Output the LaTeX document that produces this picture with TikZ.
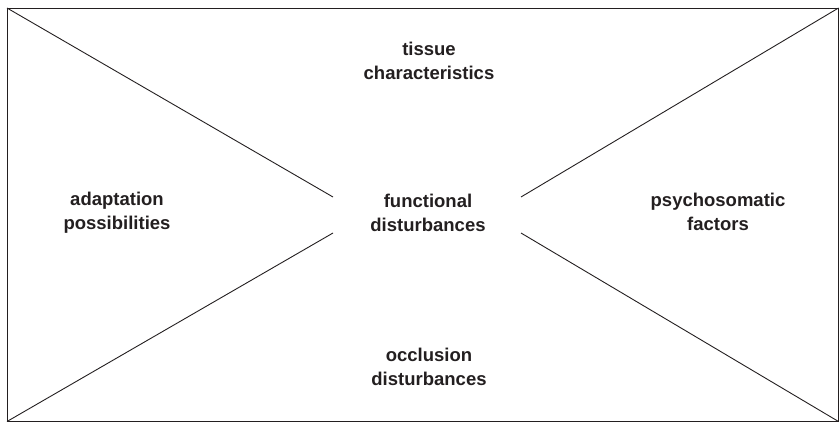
\documentclass[tikz,border=0pt]{standalone}
\usepackage{fontspec}
\setmainfont{Liberation Sans}
\definecolor{ink}{HTML}{231F20}
\begin{document}
\begin{tikzpicture}[x=1pt,y=-1pt,
  lbl/.style={font=\fontsize{18.5}{24}\selectfont\bfseries, text=ink, align=center, inner sep=0pt},
  edge/.style={draw=ink, line width=0.9pt}]
\useasboundingbox (0,0) rectangle (839,423);
\draw[edge] (7,8) rectangle (838.5,421.5);
\coordinate (tl) at (7,8);
\coordinate (bl) at (7,421.5);
\coordinate (tr) at (838.5,8);
\coordinate (br) at (838.5,421.5);
\coordinate (ctl) at (333,197);
\coordinate (cbl) at (333,233);
\coordinate (ctr) at (521,197);
\coordinate (cbr) at (521,233);
\draw[edge] (tl) -- (ctl);
\draw[edge] (bl) -- (cbl);
\draw[edge] (tr) -- (ctr);
\draw[edge] (br) -- (cbr);
\node[lbl] (tissue) at (429,61) {tissue\\characteristics};
\node[lbl] (func) at (428,213) {functional\\disturbances};
\node[lbl] (adapt) at (117,213) {adaptation\\possibilities};
\node[lbl] (psycho) at (718,212) {psychosomatic\\factors};
\node[lbl] (occl) at (429,367) {occlusion\\disturbances};
\end{tikzpicture}
\end{document}
